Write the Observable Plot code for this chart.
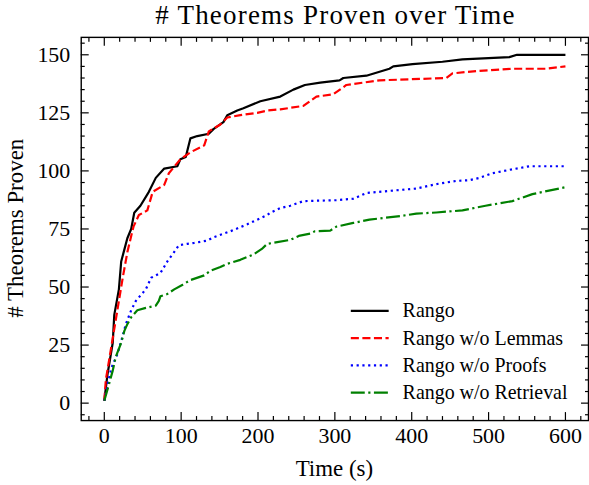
<!DOCTYPE html>
<html><head><meta charset="utf-8">
<script src="https://cdn.jsdelivr.net/npm/d3@7"></script>
<script src="https://cdn.jsdelivr.net/npm/@observablehq/plot@0.6"></script>
<style>
html,body{margin:0;padding:0;background:#fff;overflow:hidden;}
#wrap{position:relative;width:589px;height:485px;overflow:hidden;}
#title{position:absolute;left:81px;top:1px;width:509px;text-align:center;font-family:"Liberation Serif",serif;font-size:27px;letter-spacing:1.2px;line-height:29px;color:#000;white-space:nowrap;}
svg{display:block;}
</style></head>
<body><div id="wrap"><div id="title"># Theorems Proven over Time</div></div>
<script>
const seriesNames = ["Rango", "Rango w/o Lemmas", "Rango w/o Proofs", "Rango w/o Retrieval"];
const seriesColors = ["#000000", "#ff0000", "#0000ff", "#008000"];
const seriesDash = [null, "8.1,3.5", "2.2,3.6", "14,3.5,2.2,3.5"];

const rangoT = [0, 4, 11, 13, 19, 22, 26, 30, 35, 39, 47, 58, 67, 78, 95, 99, 106, 112, 121, 136, 142, 155, 160, 173, 181, 203, 229, 246, 261, 281, 306, 311, 341, 371, 376, 401, 440, 466, 527, 537, 600];
const rangoV = [1, 12, 26, 38, 49, 61, 66, 71, 75, 82, 85, 91, 97, 101, 102, 105, 106, 114, 115, 116, 118, 121, 124, 126, 127, 130, 132, 135, 137, 138, 139, 140, 141, 144, 145, 146, 147, 148, 149, 150, 150];

const lemmasT = [0, 2, 9, 15, 24, 30, 35, 38, 45, 56, 63, 78, 84, 99, 112, 130, 136, 151, 160, 177, 199, 212, 229, 259, 276, 298, 315, 358, 445, 453, 484, 531, 574, 600];
const lemmasV = [1, 10, 24, 36, 54, 65, 72, 76, 81, 83, 91, 94, 99, 105, 108, 111, 117, 120, 123, 124, 125, 126, 126.5, 128, 132, 133, 137, 139, 140, 142, 143, 144, 144, 145];

const proofsT = [0, 9, 17, 24, 28, 35, 41, 54, 61, 73, 82, 93, 97, 108, 117, 134, 142, 164, 186, 199, 212, 216, 229, 242, 259, 302, 324, 341, 371, 406, 432, 458, 475, 488, 505, 531, 553, 600];
const proofsV = [1, 15, 21, 29, 34, 40, 44, 49, 54, 56, 61, 66, 68, 68.6, 69, 70, 71.4, 74, 77, 79, 81, 82, 84, 85, 87, 87.4, 88, 90.5, 91.4, 92.4, 94.3, 95.7, 96, 97, 99, 100.7, 102, 102];

const retrievalT = [0, 6, 11, 15, 22, 26, 30, 35, 43, 54, 67, 71, 73, 82, 91, 102, 112, 130, 138, 151, 160, 177, 194, 205, 212, 225, 242, 253, 268, 274, 294, 302, 324, 345, 388, 406, 432, 466, 496, 531, 557, 600];
const retrievalV = [1, 8, 14, 20, 26, 31, 34, 37, 40, 41, 42, 44, 46, 47, 49, 51, 53, 55, 57, 58.6, 60, 61.7, 64, 66.4, 68.6, 69.3, 70.3, 72, 73, 74, 74.3, 76, 77.6, 79, 80.7, 81.6, 82.1, 83, 85, 87, 90, 93];

const xMajor = [0, 100, 200, 300, 400, 500, 600];
const xMinor = [-20, 20, 40, 60, 80, 120, 140, 160, 180, 220, 240, 260, 280, 320, 340, 360, 380, 420, 440, 460, 480, 520, 540, 560, 580, 620];
const yMajor = [0, 25, 50, 75, 100, 125, 150];
const yMinor = [-5, 5, 10, 15, 20, 30, 35, 40, 45, 55, 60, 65, 70, 80, 85, 90, 95, 105, 110, 115, 120, 130, 135, 140, 145, 155];

const xs = [rangoT, lemmasT, proofsT, retrievalT];
const ys = [rangoV, lemmasV, proofsV, retrievalV];
const rows = [];
seriesNames.forEach((name, k) => xs[k].forEach((t, i) => rows.push({series: name, t, v: ys[k][i]})));

const empty = () => "";
const marks = [];
seriesNames.forEach((name, k) => {
  marks.push(Plot.line(rows.filter(d => d.series === name), {
    x: "t", y: "v", stroke: seriesColors[k], strokeWidth: 2.2,
    strokeDasharray: seriesDash[k], strokeLinejoin: "round", strokeLinecap: "butt"
  }));
});

const chart = Plot.plot({
  width: 591, height: 485,
  marginLeft: 81, marginRight: 1, marginTop: 37, marginBottom: 63.5,
  style: {fontFamily: "'Liberation Serif', serif", fontSize: "22px", color: "#000", background: "transparent", overflow: "visible"},
  x: {domain: [-30, 630], label: null},
  y: {domain: [-7.5, 157.5], label: null},
  marks: [
    ...marks,
    Plot.axisX(xMinor, {anchor: "bottom", tickSize: -4, tickFormat: empty, label: null, strokeWidth: 1.2}),
    Plot.axisX(xMinor, {anchor: "top", tickSize: -4, tickFormat: empty, label: null, strokeWidth: 1.2}),
    Plot.axisX(xMajor, {anchor: "bottom", tickSize: -8, tickFormat: empty, label: null, strokeWidth: 1.2}),
    Plot.axisX(xMajor, {anchor: "top", tickSize: -8, tickFormat: empty, label: null, strokeWidth: 1.2}),
    Plot.axisX(xMajor, {anchor: "bottom", tickSize: 0, tickPadding: 7, label: null, fontSize: 22}),
    Plot.axisY(yMinor, {anchor: "left", tickSize: -4, tickFormat: empty, label: null, strokeWidth: 1.2}),
    Plot.axisY(yMinor, {anchor: "right", tickSize: -4, tickFormat: empty, label: null, strokeWidth: 1.2}),
    Plot.axisY(yMajor, {anchor: "left", tickSize: -8, tickFormat: empty, label: null, strokeWidth: 1.2}),
    Plot.axisY(yMajor, {anchor: "right", tickSize: -8, tickFormat: empty, label: null, strokeWidth: 1.2}),
    Plot.axisY(yMajor, {anchor: "left", tickSize: 0, tickPadding: 11, label: null, fontSize: 22}),
    Plot.frame({stroke: "#000", strokeWidth: 1.4})
  ]
});

const svg = d3.select(chart);
// axis labels
svg.append("text").attr("x", 335.5).attr("y", 478).attr("text-anchor", "middle")
  .attr("font-size", 23).attr("fill", "#000").text("Time (s)");
svg.append("text").attr("transform", "translate(23,229) rotate(-90)").attr("text-anchor", "middle")
  .attr("font-size", 23).attr("fill", "#000").text("# Theorems Proven");
// legend
const legendY = [312, 339.3, 366.7, 394];
const lg = svg.append("g").attr("text-anchor", "start");
seriesNames.forEach((name, k) => {
  lg.append("line").attr("x1", 352).attr("x2", 390).attr("y1", legendY[k]).attr("y2", legendY[k])
    .attr("stroke", seriesColors[k]).attr("stroke-width", 2.2)
    .attr("stroke-dasharray", seriesDash[k]);
  lg.append("text").attr("x", 404).attr("y", legendY[k] + 6.5).attr("font-size", 20)
    .attr("text-anchor", "start").attr("fill", "#000").text(name);
});

document.getElementById("wrap").insertBefore(chart, document.getElementById("title"));
</script>
</body></html>
